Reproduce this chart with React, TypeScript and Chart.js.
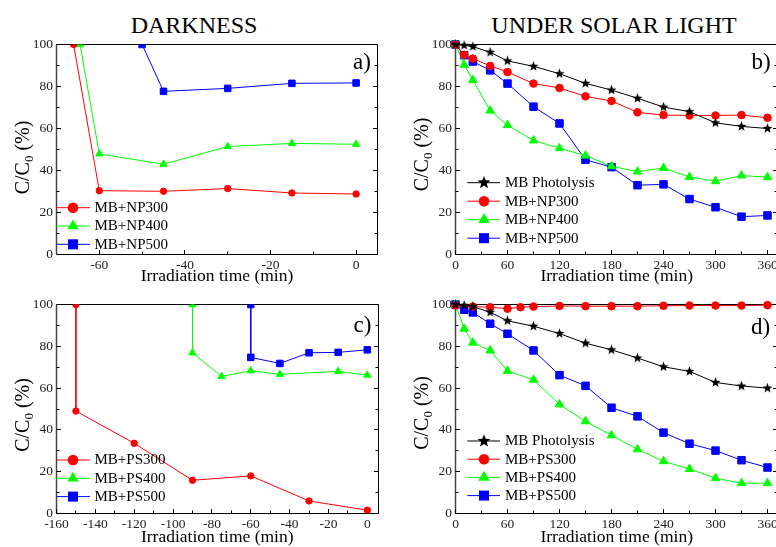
import React, { useEffect, useRef } from 'react';
import { Chart, registerables } from 'chart.js';

Chart.register(...registerables);

const SERIF = "'Liberation Serif', 'Times New Roman', serif";

// ---------- data: panel a (darkness, NP) ----------
const aNP300X = [-66, -60, -45, -30, -15, 0];
const aNP300Y = [100, 30.4, 30.1, 31.4, 29.3, 28.8];
const aNP400X = [-64.5, -60, -45, -30, -15, 0];
const aNP400Y = [100, 47.9, 43, 51.4, 52.9, 52.5];
const aNP500X = [-50, -45, -30, -15, 0];
const aNP500Y = [100, 77.7, 79.1, 81.5, 81.7];

// ---------- data: panel b (solar light, NP) ----------
const solarTimes = [0, 10, 20, 40, 60, 90, 120, 150, 180, 210, 240, 270, 300, 330, 360];
const photolysis = [100, 99.6, 99, 96.3, 92.2, 89.6, 86.1, 81.5, 78.3, 74.4, 70.2, 68, 62.7, 61, 60];
const bNP300 = [100, 95.1, 93.3, 89.8, 86.9, 81.4, 79.3, 75.3, 73.1, 67.7, 66.4, 66.2, 66.2, 66.4, 65.1];
const bNP400 = [100, 90.3, 83.1, 68.5, 61.6, 54.3, 50.6, 47.1, 42, 39.5, 41.2, 36.9, 34.9, 37.6, 36.8];
const bNP500 = [100, 94.9, 91.9, 87.7, 81.4, 70.4, 62.4, 45.1, 41.6, 33, 33.4, 26.4, 22.5, 18, 18.6];

// ---------- data: panel c (darkness, PS) ----------
const cPS300X = [-150, -150, -120, -90, -60, -30, 0];
const cPS300Y = [100, 49, 33.6, 15.9, 18, 6, 1.6];
const cPS400X = [-90, -90, -75, -60, -45, -15, 0];
const cPS400Y = [100, 76.9, 65.6, 68.3, 66.6, 68, 66.2];
const cPS500X = [-60, -60, -45, -30, -15, 0];
const cPS500Y = [100, 74.7, 71.8, 76.9, 77.1, 78.3];

// ---------- data: panel d (solar light, PS) ----------
const dPS300X = [0, 20, 40, 60, 75, 90, 120, 150, 180, 210, 240, 270, 300, 330, 360];
const dPS300Y = [99.5, 99, 98.7, 98, 98.7, 99, 99.3, 99.2, 99.2, 99.2, 99.4, 99.5, 99.5, 99.5, 99.7];
const dPS400Y = [100, 88.4, 81.7, 78, 68.2, 64, 52.2, 44.1, 37.4, 30.7, 25, 21.3, 16.9, 14.5, 14.5];
const dPS500Y = [100, 97.5, 96.2, 90.8, 86, 78, 66.2, 61.1, 50.6, 46.5, 38.7, 33.4, 30.1, 25.5, 22];

// ---------- ticks ----------
const yTicks = [0, 20, 40, 60, 80, 100];
const yMinor = [10, 30, 50, 70, 90];
const darkNPTicks = [-60, -40, -20, 0];
const darkNPMinor = [-50, -30, -10];
const darkPSTicks = [-160, -140, -120, -100, -80, -60, -40, -20, 0];
const darkPSMinor = [-150, -130, -110, -90, -70, -50, -30, -10];
const solarTicks = [0, 60, 120, 180, 240, 300, 360];
const solarMinor = [30, 90, 150, 210, 270, 330];

const RED = '#ff0000';
const GREEN = '#00ff00';
const BLUE = '#0000ff';
const BLACK = '#000000';

type Style = 'circle' | 'triangle' | 'rect' | 'star';
interface Series { label: string; xs: number[]; ys: number[]; color: string; style: Style; }
interface Panel {
  letter: string;
  L: number; R: number; T: number; B: number; XH: number;
  xMin: number; xMax: number; xMajor: number[]; xMinor: number[];
  series: Series[];
  small: boolean;
  legend: { x1: number; x2: number; mx: number; tx: number; y: number; step: number };
  letterPos: { x: number; y: number };
  titleDy: number;
  clip: boolean;
}

const CW = 820;
const CH = 547;
const YW = 40;

const panels: Panel[] = [
  {
    letter: 'a)', L: 56.5, R: 377.5, T: 44.5, B: 254.5, XH: 32,
    xMin: -70, xMax: 5, xMajor: darkNPTicks, xMinor: darkNPMinor,
    series: [
      { label: 'MB+NP300', xs: aNP300X, ys: aNP300Y, color: RED, style: 'circle' },
      { label: 'MB+NP400', xs: aNP400X, ys: aNP400Y, color: GREEN, style: 'triangle' },
      { label: 'MB+NP500', xs: aNP500X, ys: aNP500Y, color: BLUE, style: 'rect' },
    ],
    small: true,
    legend: { x1: 56.5, x2: 90, mx: 73, tx: 94.5, y: 207.7, step: 18.3 },
    letterPos: { x: 362, y: 63 }, titleDy: 8, clip: true,
  },
  {
    letter: 'b)', L: 455.5, R: 455.5 + 372 * 312 / 360, T: 44.5, B: 254.5, XH: 32,
    xMin: 0, xMax: 372, xMajor: solarTicks, xMinor: solarMinor,
    series: [
      { label: 'MB Photolysis', xs: solarTimes, ys: photolysis, color: BLACK, style: 'star' },
      { label: 'MB+NP300', xs: solarTimes, ys: bNP300, color: RED, style: 'circle' },
      { label: 'MB+NP400', xs: solarTimes, ys: bNP400, color: GREEN, style: 'triangle' },
      { label: 'MB+NP500', xs: solarTimes, ys: bNP500, color: BLUE, style: 'rect' },
    ],
    small: false,
    legend: { x1: 467.3, x2: 500, mx: 484, tx: 505, y: 182.7, step: 18.5 },
    letterPos: { x: 761, y: 62.5 }, titleDy: 5, clip: false,
  },
  {
    letter: 'c)', L: 56.5, R: 378, T: 304.5, B: 513.5, XH: 34.5,
    xMin: -160, xMax: 5.5, xMajor: darkPSTicks, xMinor: darkPSMinor,
    series: [
      { label: 'MB+PS300', xs: cPS300X, ys: cPS300Y, color: RED, style: 'circle' },
      { label: 'MB+PS400', xs: cPS400X, ys: cPS400Y, color: GREEN, style: 'triangle' },
      { label: 'MB+PS500', xs: cPS500X, ys: cPS500Y, color: BLUE, style: 'rect' },
    ],
    small: true,
    legend: { x1: 56.5, x2: 90, mx: 73, tx: 94.5, y: 460, step: 18.3 },
    letterPos: { x: 362.5, y: 326 }, titleDy: 6, clip: true,
  },
  {
    letter: 'd)', L: 455.5, R: 455.5 + 372 * 312 / 360, T: 304.5, B: 513.5, XH: 34.5,
    xMin: 0, xMax: 372, xMajor: solarTicks, xMinor: solarMinor,
    series: [
      { label: 'MB Photolysis', xs: solarTimes, ys: photolysis, color: BLACK, style: 'star' },
      { label: 'MB+PS300', xs: dPS300X, ys: dPS300Y, color: RED, style: 'circle' },
      { label: 'MB+PS400', xs: solarTimes, ys: dPS400Y, color: GREEN, style: 'triangle' },
      { label: 'MB+PS500', xs: solarTimes, ys: dPS500Y, color: BLUE, style: 'rect' },
    ],
    small: false,
    legend: { x1: 467.3, x2: 500, mx: 484, tx: 505, y: 441, step: 18.2 },
    letterPos: { x: 760.5, y: 328 }, titleDy: 4, clip: false,
  },
];

function starPath(ctx: CanvasRenderingContext2D, cx: number, cy: number, ro: number, ri: number) {
  ctx.beginPath();
  for (let i = 0; i < 10; i++) {
    const r = i % 2 === 0 ? ro : ri;
    const a = -Math.PI / 2 + (i * Math.PI) / 5;
    const x = cx + r * Math.cos(a);
    const y = cy + r * Math.sin(a);
    if (i === 0) ctx.moveTo(x, y); else ctx.lineTo(x, y);
  }
  ctx.closePath();
}

function makeStar(size: number, color: string) {
  const c = document.createElement('canvas');
  c.width = size; c.height = size;
  const ctx = c.getContext('2d')!;
  starPath(ctx, size / 2, size / 2, size / 2 - 0.3, (size / 2 - 0.3) * 0.42);
  ctx.fillStyle = color;
  ctx.fill();
  return c;
}

function drawMarker(ctx: CanvasRenderingContext2D, style: Style, x: number, y: number, color: string) {
  ctx.fillStyle = color;
  ctx.strokeStyle = color;
  if (style === 'circle') {
    ctx.beginPath(); ctx.arc(x, y, 5.3, 0, Math.PI * 2); ctx.fill();
  } else if (style === 'triangle') {
    const s = 6.6;
    ctx.beginPath();
    ctx.moveTo(x, y - s);
    ctx.lineTo(x + s * 0.866, y + s / 2);
    ctx.lineTo(x - s * 0.866, y + s / 2);
    ctx.closePath(); ctx.fill();
  } else if (style === 'rect') {
    ctx.fillRect(x - 5, y - 5, 10, 10);
  } else {
    starPath(ctx, x, y, 6.8, 2.9); ctx.fill();
  }
}

function snap(v: number) { return Math.round(v - 0.5) + 0.5; }

function PanelChart({ p }: { p: Panel }) {
  const ref = useRef<HTMLCanvasElement>(null);
  useEffect(() => {
    const canvas = ref.current!;
    const star = makeStar(11, BLACK);
    const rad = p.small
      ? { circle: 3.2, triangle: 4.2, rect: 4.6, star: 5 }
      : { circle: 3.8, triangle: 4.9, rect: 5.3, star: 5 };

    const datasets = p.series.map((s) => {
      const ds: any = {
        label: s.label,
        data: s.xs.map((x, i) => ({ x, y: s.ys[i] })),
        borderColor: s.color,
        backgroundColor: s.color,
        borderWidth: 1,
        pointStyle: s.style === 'star' ? star : s.style,
        pointRadius: rad[s.style],
        pointHoverRadius: rad[s.style],
        pointBackgroundColor: s.color,
        pointBorderColor: s.color,
        pointBorderWidth: 1,
        tension: 0,
      };
      if (!p.clip) ds.clip = false;
      return ds;
    });

    const decor = {
      id: 'decor',
      beforeDatasetsDraw(chart: any) {
        const { ctx, chartArea: a, scales } = chart;
        const xS = scales.x, yS = scales.y;
        ctx.save();
        ctx.strokeStyle = '#000';
        ctx.lineWidth = 1;
        const line = (x1: number, y1: number, x2: number, y2: number) => {
          ctx.beginPath(); ctx.moveTo(x1, y1); ctx.lineTo(x2, y2); ctx.stroke();
        };
        const L = snap(a.left), R = snap(a.right), T = snap(a.top), B = snap(a.bottom);
        line(L, T, R, T);
        line(L, B, R, B);
        line(R, T, R, B);
        ctx.strokeStyle = '#444';
        ctx.lineWidth = 1.5;
        line(L, T, L, B);
        ctx.strokeStyle = '#000';
        ctx.lineWidth = 1;
        yTicks.forEach((v) => { const y = snap(yS.getPixelForValue(v)); line(L, y, L + 4.5, y); line(R, y, R - 4.5, y); });
        yMinor.forEach((v) => { const y = snap(yS.getPixelForValue(v)); line(L, y, L + 3, y); line(R, y, R - 3, y); });
        p.xMajor.forEach((v) => { const x = snap(xS.getPixelForValue(v)); line(x, B, x, B - 4.5); });
        p.xMinor.forEach((v) => { const x = snap(xS.getPixelForValue(v)); line(x, B, x, B - 3); });
        ctx.restore();
      },
      afterDraw(chart: any) {
        const { ctx, chartArea: a } = chart;
        ctx.save();
        p.series.forEach((s, i) => {
          const y = p.legend.y + i * p.legend.step;
          ctx.strokeStyle = s.color;
          ctx.lineWidth = 1;
          ctx.beginPath(); ctx.moveTo(p.legend.x1, y); ctx.lineTo(p.legend.x2, y); ctx.stroke();
          drawMarker(ctx, s.style, p.legend.mx, y, s.color);
          ctx.fillStyle = '#000';
          ctx.font = `15px ${SERIF}`;
          ctx.textAlign = 'left';
          ctx.textBaseline = 'middle';
          ctx.fillText(s.label, p.legend.tx, y + 0.5);
        });
        ctx.fillStyle = '#000';
        ctx.font = `23px ${SERIF}`;
        ctx.textAlign = 'center';
        ctx.textBaseline = 'middle';
        ctx.fillText(p.letter, p.letterPos.x, p.letterPos.y);
        const cx = a.left - 28;
        const cy = (a.top + a.bottom) / 2 + p.titleDy;
        ctx.translate(cx, cy);
        ctx.rotate(-Math.PI / 2);
        ctx.textAlign = 'left';
        ctx.textBaseline = 'alphabetic';
        const big = `20px ${SERIF}`;
        const sub = `13px ${SERIF}`;
        ctx.font = big; const w1 = ctx.measureText('C/C').width;
        ctx.font = sub; const w2 = ctx.measureText('0').width;
        ctx.font = big; const w3 = ctx.measureText(' (%)').width;
        let x = -(w1 + w2 + w3) / 2;
        ctx.font = big; ctx.fillText('C/C', x, 0); x += w1;
        ctx.font = sub; ctx.fillText('0', x, 4); x += w2;
        ctx.font = big; ctx.fillText(' (%)', x, 0);
        ctx.restore();
      },
    };

    const tickFont = { family: SERIF, size: 13.5 };
    const chart = new Chart(canvas, {
      type: 'line',
      data: { datasets },
      options: {
        responsive: false,
        animation: false,
        devicePixelRatio: 1,
        events: [],
        layout: {
          padding: {
            left: p.L - YW,
            top: p.T,
            right: CW - p.R,
            bottom: CH - p.B - p.XH,
          },
        },
        plugins: { legend: { display: false }, tooltip: { enabled: false } },
        scales: {
          x: {
            type: 'linear',
            min: p.xMin,
            max: p.xMax,
            grid: { display: false, drawTicks: false },
            border: { display: false },
            afterBuildTicks: (s: any) => { s.ticks = p.xMajor.map((v) => ({ value: v })); },
            afterFit: (s: any) => { s.height = p.XH; },
            ticks: {
              font: tickFont, color: '#222', padding: 3, autoSkip: false,
              maxRotation: 0, minRotation: 0,
              callback: (v: any) => String(v),
            },
            title: {
              display: true,
              text: 'Irradiation time (min)',
              font: { family: SERIF, size: 17.5, lineHeight: 1.2 },
              color: '#000',
              padding: 0,
            },
          },
          y: {
            type: 'linear',
            min: 0,
            max: 100,
            grid: { display: false, drawTicks: false },
            border: { display: false },
            afterBuildTicks: (s: any) => { s.ticks = yTicks.map((v) => ({ value: v })); },
            afterFit: (s: any) => { s.width = YW; },
            ticks: { font: tickFont, color: '#222', padding: 3.5, callback: (v: any) => String(v) },
          },
        },
      } as any,
      plugins: [decor],
    });
    return () => chart.destroy();
  }, []);
  return (
    <canvas
      ref={ref}
      width={CW}
      height={CH}
      style={{ position: 'absolute', left: 0, top: 0, width: CW, height: CH }}
    />
  );
}

export default function App() {
  const titleStyle: React.CSSProperties = {
    position: 'absolute',
    top: 13,
    textAlign: 'center',
    fontFamily: SERIF,
    fontSize: 24,
    lineHeight: '24px',
    color: '#000',
    whiteSpace: 'nowrap',
  };
  return (
    <div
      style={{
        position: 'fixed', left: 0, top: 0, width: 776, height: 547,
        overflow: 'hidden', background: '#fff',
      }}
    >
      <div style={{ ...titleStyle, left: 44, width: 300 }}>DARKNESS</div>
      <div style={{ ...titleStyle, left: 464, width: 300 }}>UNDER SOLAR LIGHT</div>
      {panels.map((p) => (
        <PanelChart key={p.letter} p={p} />
      ))}
    </div>
  );
}
